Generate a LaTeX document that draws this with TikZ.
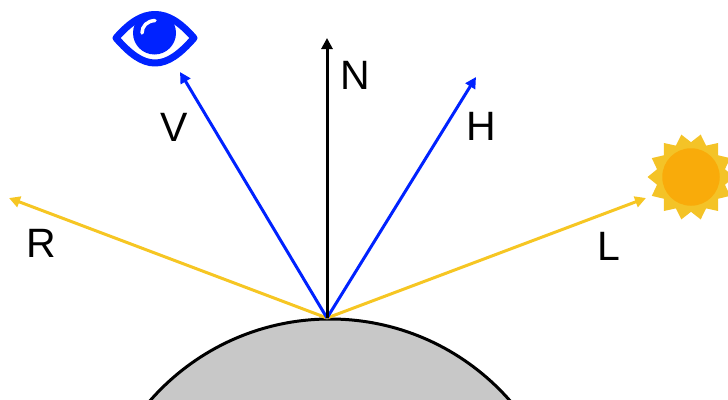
\documentclass[tikz,border=0pt]{standalone}
\usepackage{fontspec}
\setmainfont{Liberation Sans}
\usetikzlibrary{arrows.meta, shapes.geometric, positioning}
\definecolor{rayblue}{HTML}{0022FF}
\definecolor{rayyellow}{HTML}{F6C623}
\definecolor{surfgray}{HTML}{C8C8C8}
\definecolor{sunouter}{HTML}{F4C327}
\definecolor{suninner}{HTML}{F9AB0A}
\tikzset{
  ray/.style={line width=3pt,-{Triangle[length=11pt,width=11pt]}},
  vlabel/.style={font=\fontsize{41}{41}\selectfont,inner sep=0pt}
}

\begin{document}
\begin{tikzpicture}[x=1pt,y=-1pt]
          \clip(0,0)rectangle(728,399);
          % surface
          \fill[surfgray,draw=black,line width=3pt](330,558)circle(239);
          \coordinate(hit)at(327,318);
          % tips of the rays
          \coordinate(tipr)at(9,198);
          \coordinate(tipv)at(180,72);
          \coordinate(tipn)at(327,38);
          \coordinate(tiph)at(476,77);
          \coordinate(tipl)at(646,198);
          \draw[ray,rayyellow](hit)--(tipr);
          \draw[ray,rayyellow](hit)--(tipl);
          \draw[ray,rayblue](hit)--(tipv);
          \draw[ray,rayblue](hit)--(tiph);
          \draw[ray,black](hit)--(tipn);
          \node[vlabel](lr)at(41,243){R};
          \node[vlabel](lv)at(174,127){V};
          \node[vlabel](ln)at(355,75){N};
          \node[vlabel](lh)at(481,126){H};
          \node[vlabel](ll)at(608.5,246){L};
          % eye
          \draw[rayblue,line width=7pt,line join=round]
            (116,38)..controls(130,22)and(142,14.5)..(155,14.5)
            ..controls(168,14.5)and(180,22)..(194,38)
            ..controls(180,54)and(168,63)..(155,63)
            ..controls(142,63)and(130,54)..cycle;
          \node[circle,fill=rayblue,minimum size=43pt,inner sep=0pt](iris)at(154.5,33){};
          \draw[white,line width=3.5pt,line cap=round]
            (142,33)..controls(142,26)and(147,21)..(155,20.5);
          % sun
          \node[star,star points=14,star point ratio=1.25,shape border rotate=12.86,
                fill=sunouter,minimum size=87pt,inner sep=0pt](sun)at(691,177){};
          \node[circle,fill=suninner,minimum size=57.5pt,inner sep=0pt](core)at(sun.center){};
        \end{tikzpicture}
\end{document}
